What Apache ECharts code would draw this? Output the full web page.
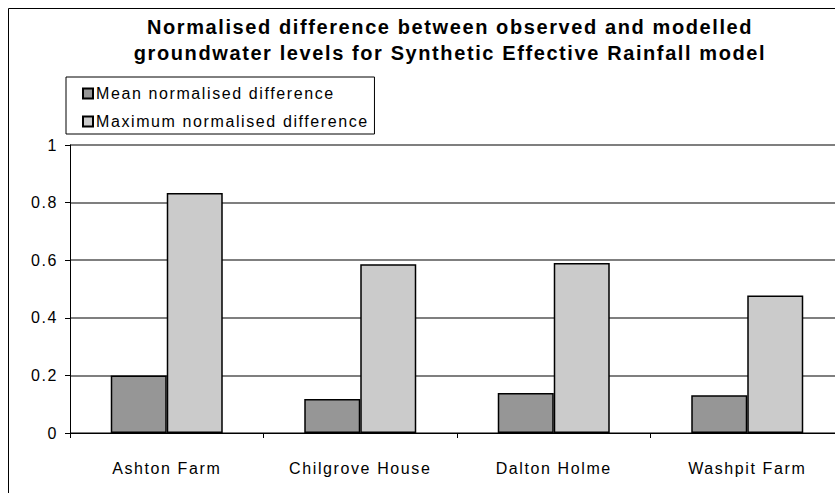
<!DOCTYPE html>
<html>
<head>
<meta charset="utf-8">
<script src="https://cdn.jsdelivr.net/npm/echarts@6/dist/echarts.min.js"></script>
<style>
  html, body { margin: 0; padding: 0; background: #fff; }
  #chart { width: 835px; height: 493px; }
  /* wide, loosely tracked lettering */
  #chart svg text { letter-spacing: 1.6px; }
</style>
</head>
<body>
<div id="chart"></div>
<script>
// Sites and normalised differences per site
const sites = ['Ashton Farm', 'Chilgrove House', 'Dalton Holme', 'Washpit Farm'];
const meanDiff = [0.2, 0.118, 0.139, 0.131];
const maxDiff = [0.833, 0.586, 0.59, 0.477];
const yTicks = [0, 0.2, 0.4, 0.6, 0.8, 1];

const FONT = '"Liberation Sans", Arial, sans-serif';

const chart = echarts.init(document.getElementById('chart'), null, { renderer: 'svg' });

chart.setOption({
  animation: false,
  backgroundColor: '#ffffff',
  title: {
    text: 'Normalised difference between observed and modelled\ngroundwater levels for Synthetic Effective Rainfall model',
    left: 445,
    textAlign: 'center',
    top: 9,
    textStyle: {
      fontFamily: FONT,
      fontSize: 20,
      fontWeight: 'bold',
      color: '#000',
      lineHeight: 26
    }
  },
  legend: {
    orient: 'vertical',
    left: 66,
    top: 77,
    padding: [8, 52, 4, 16],
    itemGap: 11,
    itemWidth: 10,
    itemHeight: 10,
    borderColor: '#000',
    borderWidth: 1,
    backgroundColor: '#fff',
    textStyle: { fontFamily: FONT, fontSize: 16, lineHeight: 17, color: '#000', padding: [0, 0, 0, -2] },
    data: [
      { name: 'Mean normalised difference', icon: 'rect' },
      { name: 'Maximum normalised difference', icon: 'rect' }
    ]
  },
  grid: {
    left: 70,
    top: 145,
    width: 774,
    height: 288,
    containLabel: false,
    outerBoundsMode: 'none'
  },
  xAxis: {
    type: 'category',
    data: sites,
    axisLine: { lineStyle: { color: '#000', width: 1 } },
    axisTick: { show: true, length: 5, lineStyle: { color: '#000' } },
    axisLabel: {
      fontFamily: FONT,
      fontSize: 16,
      color: '#000',
      margin: 27
    }
  },
  yAxis: {
    type: 'value',
    min: yTicks[0],
    max: yTicks[yTicks.length - 1],
    interval: 0.2,
    axisLine: { show: true, lineStyle: { color: '#000', width: 1 } },
    axisTick: { show: true, length: 5, lineStyle: { color: '#000' } },
    axisLabel: {
      fontFamily: FONT,
      fontSize: 16,
      color: '#000',
      margin: 12,
      formatter: v => String(Math.round(v * 10) / 10)
    },
    splitLine: { show: true, lineStyle: { color: '#555', width: 1.5 } }
  },
  series: [
    {
      name: 'Mean normalised difference',
      type: 'bar',
      data: meanDiff,
      barWidth: 56,
      barGap: '0%',
      itemStyle: { color: '#969696', borderColor: '#000', borderWidth: 1.5 }
    },
    {
      name: 'Maximum normalised difference',
      type: 'bar',
      data: maxDiff,
      barWidth: 56,
      barGap: '0%',
      itemStyle: { color: '#cbcbcb', borderColor: '#000', borderWidth: 1.5 }
    }
  ],
  graphic: [
    {
      type: 'rect',
      silent: true,
      z: -1,
      shape: { x: 8.5, y: 8.5, width: 900, height: 600 },
      style: { fill: 'none', stroke: '#000', lineWidth: 1 }
    }
  ]
});
</script>
</body>
</html>
